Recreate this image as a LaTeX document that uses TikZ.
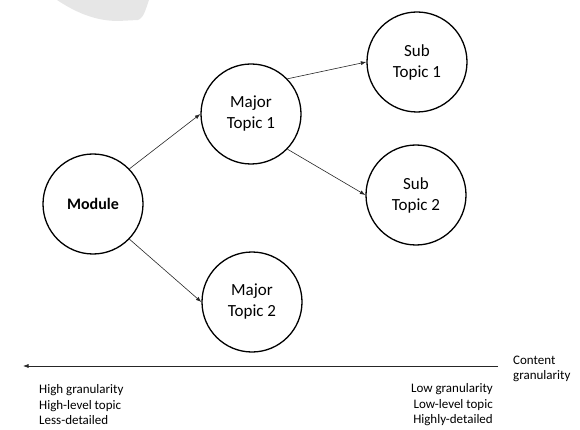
\documentclass[tikz,border=0pt]{standalone}
\usepackage{fontspec}
\setmainfont{Carlito}
\usetikzlibrary{arrows.meta}
\definecolor{blob}{HTML}{E6E6E6}
\tikzset{
  topic/.style={circle, draw=black, line width=1.3pt, minimum size=100pt, inner sep=0pt, align=center, font=\fontsize{17}{21}\selectfont},
  link/.style={draw=black!85, line width=0.6pt, -{Latex[length=5.5pt,width=4pt]}},
  note/.style={inner sep=0pt, font=\fontsize{13}{15.5}\selectfont}
}
\begin{document}
\begin{tikzpicture}[x=1pt,y=-1pt]
\useasboundingbox (0,0) rectangle (580,430);
\fill[blob] (57,0) .. controls (75,12) and (95,21) .. (118,21) -- (138,20) .. controls (144,18) and (146,8) .. (149,0) -- cycle;
\node[topic, font=\bfseries\fontsize{16}{19}\selectfont] (mod) at (93,204) {Module};
\node[topic] (mt1) at (251,114) {Major\\Topic 1};
\node[topic] (mt2) at (252,302) {Major\\Topic 2};
\node[topic] (st1) at (417,62) {Sub\\Topic 1};
\node[topic] (st2) at (416,195) {Sub\\Topic 2};
\draw[link] (mod.44) -- (mt1.west);
\draw[link] (mod.-44) -- (mt2.west);
\draw[link] (mt1.44) -- (st1.west);
\draw[link] (mt1.-44) -- (st2.west);
\coordinate (axR) at (498,366);
\coordinate (axL) at (23,366);
\draw[link] (axR) -- (axL);
\node[note, anchor=west, align=left] (cg) at (513,369) {Content\\granularity};
\node[note, anchor=west, align=left] (hi) at (39,405) {High granularity\\High-level topic\\Less-detailed};
\node[note, anchor=east, align=right] (lo) at (493,405) {Low granularity\\Low-level topic\\Highly-detailed};
\end{tikzpicture}
\end{document}
